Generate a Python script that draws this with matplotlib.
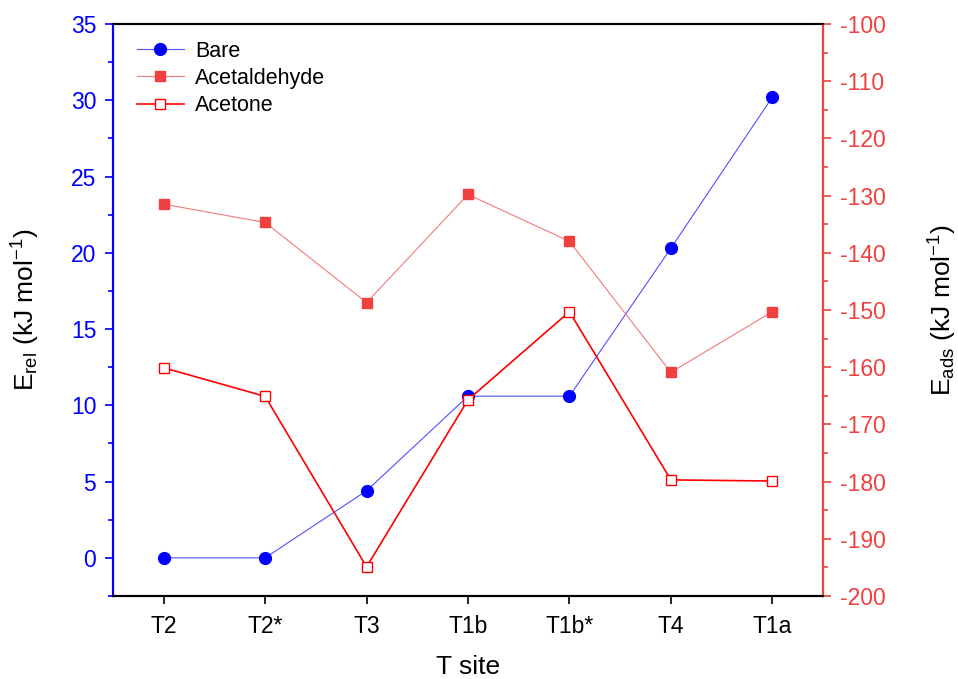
import matplotlib
matplotlib.use("Agg")
import matplotlib.pyplot as plt
from matplotlib.ticker import MultipleLocator

plt.rcParams['font.family'] = ['Liberation Sans', 'DejaVu Sans']
plt.rcParams['mathtext.fontset'] = 'custom'
plt.rcParams['mathtext.rm'] = 'Liberation Sans'
plt.rcParams['mathtext.it'] = 'Liberation Sans:italic'
plt.rcParams['axes.unicode_minus'] = False

sites = ["T2", "T2*", "T3", "T1b", "T1b*", "T4", "T1a"]
bare = [0.0, 0.0, 4.4, 10.6, 10.6, 20.3, 30.2]
acetaldehyde = [-131.5, -134.7, -148.7, -129.8, -138.0, -160.9, -150.3]
acetone = [-160.1, -165.1, -194.9, -165.7, -150.3, -179.7, -179.9]

blue = "#0000FF"
red1 = "#F04040"
red2 = "#FF0000"

fig = plt.figure(figsize=(9.58, 6.79), dpi=100)
ax = fig.add_axes([113/958, 1-596/679, (823-113)/958, (596-24)/679])
ax2 = ax.twinx()

x = list(range(1, len(sites)+1))
l1, = ax.plot(x, bare, color="#5050FF", lw=0.8, marker='o', ms=8.5,
              mfc=blue, mec=blue, label="Bare")
l2, = ax2.plot(x, acetaldehyde, color="#F47A7A", lw=0.8, marker='s', ms=7.5,
               mfc=red1, mec=red1, label="Acetaldehyde")
l3, = ax2.plot(x, acetone, color=red2, lw=1.2, marker='s', ms=7.5,
               mfc='white', mec=red2, mew=1.0, label="Acetone")

ax.set_xlim(0.5, 7.5)
ax.set_ylim(-2.5, 35)
ax2.set_ylim(-200, -100)
ax.set_xticks(x)
ax.set_xticklabels(sites)
ax.yaxis.set_major_locator(MultipleLocator(5))
ax.yaxis.set_minor_locator(MultipleLocator(2.5))
ax2.yaxis.set_major_locator(MultipleLocator(10))
ax2.yaxis.set_minor_locator(MultipleLocator(5))

ax.tick_params(axis='x', direction='out', length=6, width=1.2, pad=8, labelsize=16.5)
ax.tick_params(axis='y', which='major', direction='out', length=6, width=1.2,
               colors=blue, labelsize=16.5, pad=6)
ax.tick_params(axis='y', which='minor', direction='out', length=3.5, width=1.2, colors=blue)
ax2.tick_params(axis='y', which='major', direction='out', length=6, width=1.2,
                colors=red1, labelsize=16.5, pad=6)
ax2.tick_params(axis='y', which='minor', direction='out', length=3.5, width=1.2, colors=red1)

for s in list(ax.spines.values()) + list(ax2.spines.values()):
    s.set_linewidth(1.5)
ax2.spines['left'].set_color(blue)
ax2.spines['right'].set_color(red1)
ax.spines['left'].set_color(blue)

ax.set_xlabel("T site", fontsize=19, labelpad=12)
ax.set_ylabel(r"E$_{\mathrm{rel}}$ (kJ mol$^{\mathrm{-1}}$)", fontsize=19, labelpad=21)
ax2.set_ylabel(r"E$_{\mathrm{ads}}$ (kJ mol$^{\mathrm{-1}}$)", fontsize=19, labelpad=30,
               rotation=90)

leg = ax.legend(handles=[l1, l2, l3], loc='upper left', frameon=False, fontsize=15.5,
                bbox_to_anchor=(0.006, 1.005), handlelength=2.2, labelspacing=0.3,
                handletextpad=0.5)

fig.savefig("out.png", dpi=100)
